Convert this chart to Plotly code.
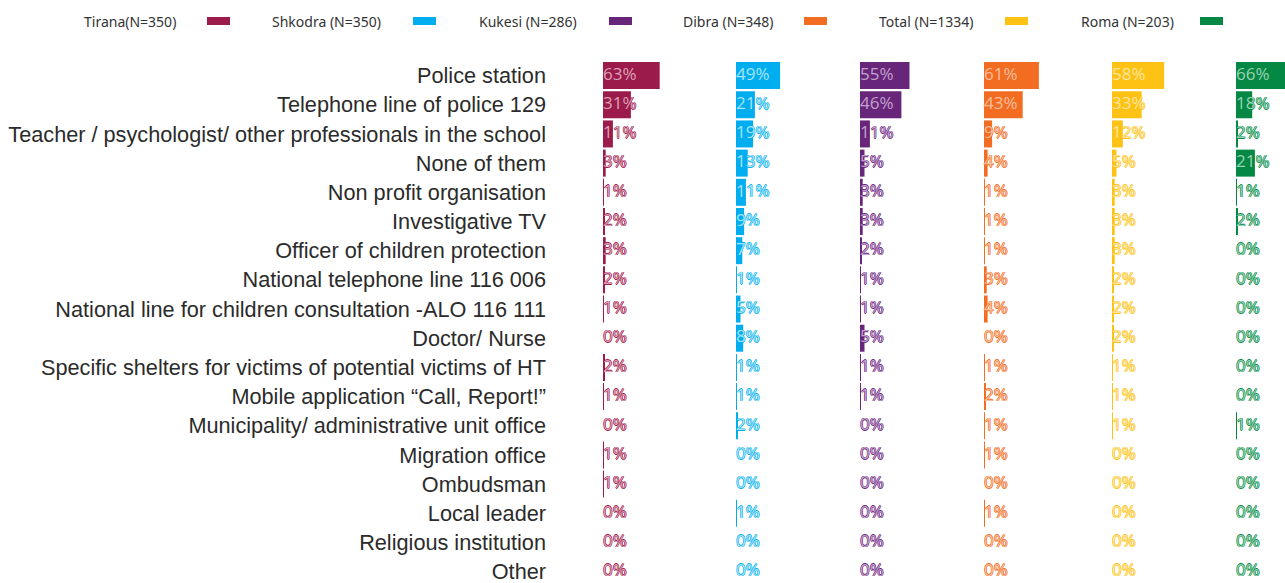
import plotly.graph_objects as go

categories = [
    "Police station",
    "Telephone line of police 129",
    "Teacher / psychologist/ other professionals in the school",
    "None of them",
    "Non profit organisation",
    "Investigative TV",
    "Officer of children protection",
    "National telephone line 116 006",
    "National line for children consultation -ALO 116 111",
    "Doctor/ Nurse",
    "Specific shelters for victims of potential victims of HT",
    "Mobile application \u201cCall, Report!\u201d",
    "Municipality/ administrative unit office",
    "Migration office",
    "Ombudsman",
    "Local leader",
    "Religious institution",
    "Other",
]

tirana  = [63, 31, 11, 3, 1, 2, 3, 2, 1, 0, 2, 1, 0, 1, 1, 0, 0, 0]
shkodra = [49, 21, 19, 13, 11, 9, 7, 1, 5, 8, 1, 1, 2, 0, 0, 1, 0, 0]
kukesi  = [55, 46, 11, 5, 3, 3, 2, 1, 1, 5, 1, 1, 0, 0, 0, 0, 0, 0]
dibra   = [61, 43, 9, 4, 1, 1, 1, 3, 4, 0, 1, 2, 1, 1, 0, 1, 0, 0]
total   = [58, 33, 12, 5, 3, 3, 3, 2, 2, 2, 1, 1, 1, 0, 0, 0, 0, 0]
roma    = [66, 18, 2, 21, 1, 2, 0, 0, 0, 0, 0, 0, 1, 0, 0, 0, 0, 0]

series_names = ["Tirana(N=350)", "Shkodra (N=350)", "Kukesi (N=286)",
                "Dibra (N=348)", "Total (N=1334)", "Roma (N=203)"]
series_values = [tirana, shkodra, kukesi, dibra, total, roma]
series_colors = ["#9B1B4B", "#00AEEF", "#68267A", "#F26C22", "#FEC214", "#058843"]
text_fills = ["#DDA0B6", "#A6E3FA", "#C3A0CF", "#FABF9E", "#FEE59C", "#97D2B2"]

W, H = 1285, 583
TOP = 61
PLOT_H = H - TOP
panel_starts = [603, 736, 860, 984, 1112, 1236]
px_per_pct = 0.9
row_h = 29.18

fig = go.Figure()
layout_axes = {}
for i, (name, vals, color, tfill) in enumerate(zip(series_names, series_values, series_colors, text_fills)):
    xa = "x" if i == 0 else f"x{i+1}"
    fig.add_trace(go.Bar(
        x=vals, y=categories, orientation="h",
        marker=dict(color=color, line=dict(width=0)),
        xaxis=xa, yaxis="y", showlegend=False, name=name,
    ))
    shadow = ",".join(f"{dx}px {dy}px 0 {color}" for dx, dy in
                      [(-0.5, 0), (0.5, 0), (0, -0.5), (0, 0.5)])
    fig.add_trace(go.Scatter(
        x=[0] * len(vals), y=categories, mode="text",
        text=[f"{v}%" for v in vals], textposition="middle right",
        textfont=dict(family="Open Sans", size=17, color=tfill, shadow=shadow),
        xaxis=xa, yaxis="y", showlegend=False, cliponaxis=False, hoverinfo="skip",
    ))
    start = panel_starts[i]
    end = min(start + 100 * px_per_pct, W)
    key = "xaxis" if i == 0 else f"xaxis{i+1}"
    layout_axes[key] = dict(
        domain=[start / W, end / W], range=[0, (end - start) / px_per_pct],
        visible=False, fixedrange=True, anchor="y",
    )

bottom = PLOT_H / row_h - 0.5
fig.update_layout(
    **layout_axes,
    yaxis=dict(
        categoryorder="array", categoryarray=categories,
        range=[bottom, -0.5], showgrid=False, zeroline=False, showline=False,
        ticks="", ticklabelstandoff=56, fixedrange=True,
        tickfont=dict(family="Liberation Sans", size=21.7, color="#2b2b2b"),
        anchor="x",
    ),
    width=W, height=H,
    margin=dict(l=0, r=0, t=TOP, b=0),
    plot_bgcolor="white", paper_bgcolor="white",
    bargap=0.075, showlegend=False,
)

# legend drawn as text + colour keys (text first, key to the right)
legend_text_x = [82, 270, 477, 681, 877, 1079]
legend_key_x = [207, 413, 609, 804, 1005, 1200]
ly = 21
def py(p):
    return (H - p) / PLOT_H
for name, color, tx, kx in zip(series_names, series_colors, legend_text_x, legend_key_x):
    fig.add_annotation(
        x=tx / W, y=py(ly), xref="paper", yref="paper", text=name,
        showarrow=False, xanchor="left", yanchor="middle",
        font=dict(family="Noto Sans", size=14, color="#333333"),
    )
    fig.add_shape(
        type="rect", xref="paper", yref="paper",
        x0=kx / W, x1=(kx + 23) / W, y0=py(ly + 4), y1=py(ly - 4),
        fillcolor=color, line=dict(width=0),
    )

fig.write_html(
    "out.html",
    config={"displayModeBar": False},
    post_script="document.body.style.margin='0';document.body.style.overflow='hidden';",
)
